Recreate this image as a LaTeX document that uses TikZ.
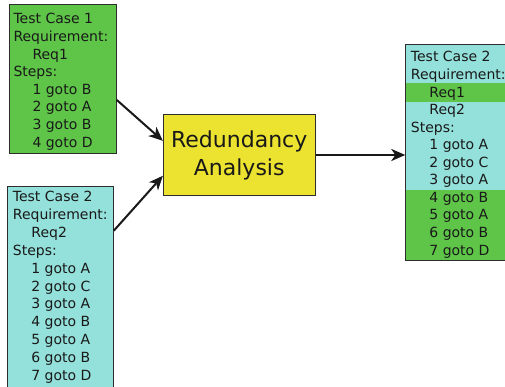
\documentclass[tikz,border=0pt]{standalone}
\usepackage{fontspec}
\setmainfont{DejaVu Sans}
\usetikzlibrary{arrows.meta,calc}
\definecolor{tcgreen}{RGB}{94,197,72}
\definecolor{tccyan}{RGB}{148,224,218}
\definecolor{ryellow}{RGB}{236,226,48}
\definecolor{edgegray}{RGB}{45,45,45}
\begin{document}
\begin{tikzpicture}[x=1pt,y=-1pt,
  casebox/.style={draw=edgegray, line width=1pt, inner sep=0pt, outer sep=0pt, anchor=north west},
  caseline/.style={anchor=base west, inner sep=0pt, font=\fontsize{14}{17}\selectfont, text=black!90},
  flow/.style={line width=2pt, draw=black!90, -{Stealth[length=14pt,width=12pt,inset=4pt]}}]
\clip (0,0) rectangle (505,387);

% test case 1
\node[casebox, fill=tcgreen, minimum width=107.5pt, minimum height=149pt] (tc1) at (9.3,5) {};
\foreach \t/\ind [count=\i from 0] in {Test Case 1/0, Requirement:/0, Req1/1, Steps:/0,
    1 goto B/1, 2 goto A/1, 3 goto B/1, 4 goto D/1}
  \node[caseline] (tc1-\i) at ({13.3+19*\ind}, {24+17.6*\i}) {\t};

% test case 2
\node[casebox, fill=tccyan, minimum width=106pt, minimum height=210pt] (tc2) at (7.8,186.7) {};
\foreach \t/\ind [count=\i from 0] in {Test Case 2/0, Requirement:/0, Req2/1, Steps:/0,
    1 goto A/1, 2 goto C/1, 3 goto A/1, 4 goto B/1, 5 goto A/1, 6 goto B/1, 7 goto D/1}
  \node[caseline] (tc2-\i) at ({12.7+18.5*\ind}, {202+17.8*\i}) {\t};

% redundancy analysis
\node[draw=edgegray, line width=1pt, fill=ryellow, inner sep=0pt,
      minimum width=151.7pt, minimum height=81.4pt, align=center,
      font=\fontsize{22}{28}\selectfont, text=black!90] (ra) at (239.2,155) {Redundancy\\Analysis};

% reduced test case 2 with the redundant parts marked
\fill[tccyan] (405.3,45) rectangle (515,260.6);
\fill[tcgreen] (405.3,83.3) rectangle (515,101.7);
\fill[tcgreen] (405.3,190) rectangle (515,260.6);
\node[casebox, minimum width=109.7pt, minimum height=215.6pt] (rb) at (405.3,45) {};
\foreach \t/\ind [count=\i from 0] in {Test Case 2/0, Requirement:/0, Req1/1, Req2/1, Steps:/0,
    1 goto A/1, 2 goto C/1, 3 goto A/1, 4 goto B/1, 5 goto A/1, 6 goto B/1, 7 goto D/1}
  \node[caseline] (rb-\i) at ({410.7+18.5*\ind}, {62+17.55*\i}) {\t};

% connectors
\draw[flow] ($(tc1.north east)+(0,95)$) -- ($(ra.north west)+(0,27)$);
\draw[flow] ($(tc2.north east)+(0,44)$) -- ($(ra.north west)+(0,62)$);
\draw[flow] (ra.east) -- (rb.west |- ra.east);
\end{tikzpicture}
\end{document}
